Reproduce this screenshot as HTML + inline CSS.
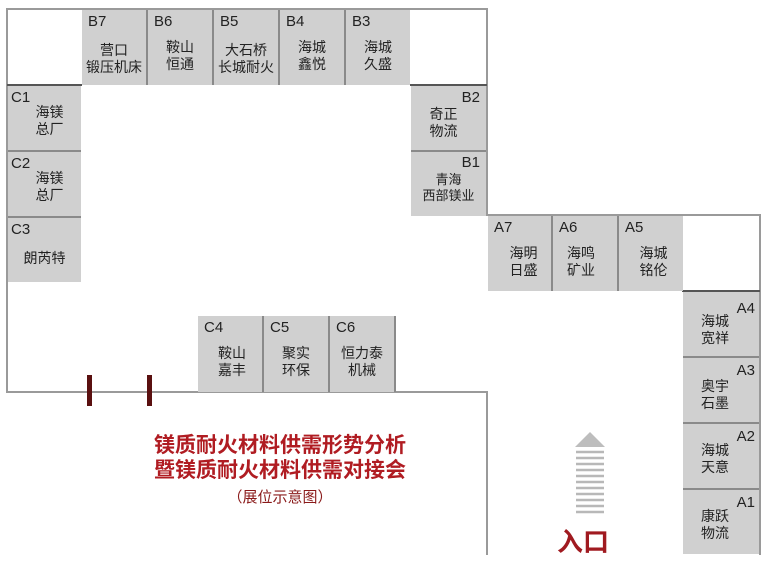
<!DOCTYPE html>
<html><head><meta charset="utf-8"><style>
body{margin:0;width:767px;height:579px;background:#fff;position:relative;overflow:hidden;font-family:"Liberation Sans","Noto Sans CJK SC",sans-serif;color:#222}
.l{position:absolute;background:#9a9a9a}
.b{position:absolute;background:#d0d0d0;box-sizing:border-box;font-size:14px;line-height:17px}
.b .c{position:absolute;font-size:15px;top:3px;left:6px;color:#222}
.b .t{position:absolute;left:0;right:0;text-align:center;color:#222}
.sep{border-right:2px solid #8a8a8a}
.hs{border-bottom:2px solid #8a8a8a}
</style></head><body>
<!-- walls -->
<div class="l" style="left:6px;top:8px;width:482px;height:2px"></div>
<div class="l" style="left:6px;top:8px;width:2px;height:385px"></div>
<div class="l" style="left:486px;top:8px;width:2px;height:208px"></div>
<div class="l" style="left:6px;top:391px;width:482px;height:2px"></div>
<div class="l" style="left:486px;top:391px;width:2px;height:164px"></div>
<div class="l" style="left:486px;top:214px;width:275px;height:2px"></div>
<div class="l" style="left:759px;top:214px;width:2px;height:341px"></div>
<div class="l" style="left:7px;top:84px;width:75px;height:2px;background:#555"></div>
<div class="l" style="left:410px;top:84px;width:77px;height:2px;background:#555"></div>
<div class="l" style="left:682px;top:290px;width:78px;height:2px;background:#555"></div>
<!-- B row -->
<div class="b sep" style="left:82px;top:10px;width:66px;height:75px"><span class="c">B7</span><div class="t" style="top:32px">营口<br>锻压机床</div></div>
<div class="b sep" style="left:148px;top:10px;width:66px;height:75px"><span class="c">B6</span><div class="t" style="top:29px">鞍山<br>恒通</div></div>
<div class="b sep" style="left:214px;top:10px;width:66px;height:75px"><span class="c">B5</span><div class="t" style="top:32px">大石桥<br>长城耐火</div></div>
<div class="b sep" style="left:280px;top:10px;width:66px;height:75px"><span class="c">B4</span><div class="t" style="top:29px">海城<br>鑫悦</div></div>
<div class="b" style="left:346px;top:10px;width:64px;height:75px"><span class="c">B3</span><div class="t" style="top:29px">海城<br>久盛</div></div>
<!-- C left -->
<div class="b hs" style="left:8px;top:86px;width:73px;height:66px"><span class="c" style="left:3px">C1</span><div class="t" style="top:18px;left:10px">海镁<br>总厂</div></div>
<div class="b hs" style="left:8px;top:152px;width:73px;height:66px"><span class="c" style="left:3px">C2</span><div class="t" style="top:18px;left:10px">海镁<br>总厂</div></div>
<div class="b" style="left:8px;top:218px;width:73px;height:64px"><span class="c" style="left:3px">C3</span><div class="t" style="top:32px">朗芮特</div></div>
<!-- B2 B1 -->
<div class="b hs" style="left:411px;top:86px;width:75px;height:66px"><span class="c" style="left:auto;right:6px;top:3px">B2</span><div class="t" style="top:20px;right:10px">奇正<br>物流</div></div>
<div class="b" style="left:411px;top:152px;width:75px;height:64px"><span class="c" style="left:auto;right:6px;top:2px">B1</span><div class="t" style="top:20px;font-size:13px;line-height:16px">青海<br>西部镁业</div></div>
<!-- A row -->
<div class="b sep" style="left:488px;top:216px;width:65px;height:75px"><span class="c">A7</span><div class="t" style="top:29px;left:8px">海明<br>日盛</div></div>
<div class="b sep" style="left:553px;top:216px;width:66px;height:75px"><span class="c">A6</span><div class="t" style="top:29px;right:8px">海鸣<br>矿业</div></div>
<div class="b" style="left:619px;top:216px;width:64px;height:75px"><span class="c">A5</span><div class="t" style="top:29px;left:5px">海城<br>铭伦</div></div>
<!-- A column -->
<div class="b hs" style="left:683px;top:292px;width:76px;height:66px"><span class="c" style="left:auto;right:4px;top:8px">A4</span><div class="t" style="top:21px;right:12px">海城<br>宽祥</div></div>
<div class="b hs" style="left:683px;top:358px;width:76px;height:66px"><span class="c" style="left:auto;right:4px;top:4px">A3</span><div class="t" style="top:20px;right:12px">奥宇<br>石墨</div></div>
<div class="b hs" style="left:683px;top:424px;width:76px;height:66px"><span class="c" style="left:auto;right:4px;top:4px">A2</span><div class="t" style="top:18px;right:12px">海城<br>天意</div></div>
<div class="b" style="left:683px;top:490px;width:76px;height:64px"><span class="c" style="left:auto;right:4px;top:4px">A1</span><div class="t" style="top:18px;right:12px">康跃<br>物流</div></div>
<!-- C4-6 -->
<div class="b sep" style="left:198px;top:316px;width:66px;height:76px"><span class="c">C4</span><div class="t" style="top:29px;left:4px">鞍山<br>嘉丰</div></div>
<div class="b sep" style="left:264px;top:316px;width:66px;height:76px"><span class="c">C5</span><div class="t" style="top:29px">聚实<br>环保</div></div>
<div class="b sep" style="left:330px;top:316px;width:66px;height:76px"><span class="c">C6</span><div class="t" style="top:29px">恒力泰<br>机械</div></div>
<!-- red bars -->
<div style="position:absolute;left:87px;top:375px;width:5px;height:31px;background:#5a1010"></div>
<div style="position:absolute;left:147px;top:375px;width:5px;height:31px;background:#5a1010"></div>
<!-- title -->
<div style="position:absolute;left:130px;top:433px;width:300px;text-align:center;color:#b01c22;font-weight:bold;font-size:21px;line-height:25px">镁质耐火材料供需形势分析<br>暨镁质耐火材料供需对接会</div>
<div style="position:absolute;left:130px;top:489px;width:300px;text-align:center;color:#8a1a1a;font-size:15px;line-height:18px">（展位示意图）</div>
<!-- arrow -->
<svg style="position:absolute;left:570px;top:430px" width="40" height="86">
<polygon points="20,2 5,17 35,17" fill="#bdbdbd"/>
<g stroke="#b8b8b8" stroke-width="2.5">
<line x1="6" y1="22" x2="34" y2="22"/><line x1="6" y1="28" x2="34" y2="28"/><line x1="6" y1="34" x2="34" y2="34"/><line x1="6" y1="40" x2="34" y2="40"/><line x1="6" y1="46" x2="34" y2="46"/><line x1="6" y1="52" x2="34" y2="52"/><line x1="6" y1="58" x2="34" y2="58"/><line x1="6" y1="64" x2="34" y2="64"/><line x1="6" y1="70" x2="34" y2="70"/><line x1="6" y1="76" x2="34" y2="76"/><line x1="6" y1="82" x2="34" y2="82"/>
</g></svg>
<div style="position:absolute;left:557px;top:527px;color:#a01a20;font-weight:bold;font-size:26px;line-height:30px">入口</div>
</body></html>
